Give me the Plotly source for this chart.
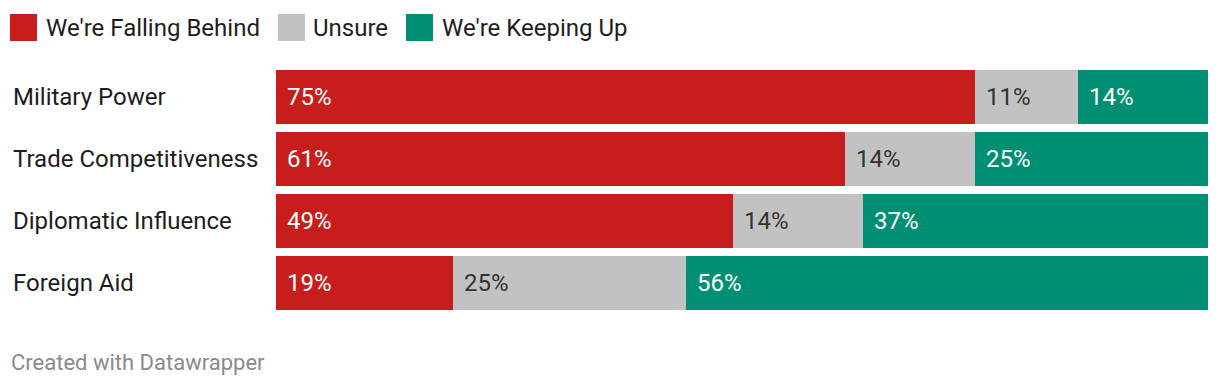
import plotly.graph_objects as go

categories = ["Military Power", "Trade Competitiveness", "Diplomatic Influence", "Foreign Aid"]
falling_behind = [75, 61, 49, 19]
unsure = [11, 14, 14, 25]
keeping_up = [14, 25, 37, 56]
series_names = ["We're Falling Behind", "Unsure", "We're Keeping Up"]
colors = ["#c71e1d", "#c2c2c2", "#008f72"]
text_colors = ["#ffffff", "#333333", "#ffffff"]

# page body has an 8px offset; positions below are reference pixels minus 8
OFF = 8
W, H = 1220, 386
ML, MR, MT, MB = 276 - OFF, 20, 66 - OFF, 80
PW = W - ML - MR
PH = H - MT - MB


def px_x(px):
    return (px - OFF - ML) / PW


def px_y(py):
    return 1 - (py - OFF - MT) / PH


FONT = "Roboto"
fig = go.Figure()
series = [falling_behind, unsure, keeping_up]
for name, vals, col in zip(series_names, series, colors):
    fig.add_trace(go.Bar(
        y=categories, x=vals, name=name, orientation="h",
        marker=dict(color=col, line=dict(width=0)),
        showlegend=False, hoverinfo="skip",
    ))

annotations = []
for i, cat in enumerate(categories):
    start = 0
    for s, vals in enumerate(series):
        annotations.append(dict(
            x=start, y=cat, xref="x", yref="y", text=f"{vals[i]}%",
            showarrow=False, xanchor="left", yanchor="middle", xshift=9,
            font=dict(family=FONT, size=24, color=text_colors[s]),
        ))
        start += vals[i]
    annotations.append(dict(
        x=px_x(11), y=cat, xref="paper", yref="y", text=cat,
        showarrow=False, xanchor="left", yanchor="middle",
        font=dict(family=FONT, size=24, color="#1d1d1d"),
    ))

legend_sq_x = [10, 278, 406]
legend_tx_x = [44, 311, 440]
shapes = []
for name, col, sx, tx in zip(series_names, colors, legend_sq_x, legend_tx_x):
    shapes.append(dict(
        type="rect", xref="paper", yref="paper",
        x0=px_x(sx), x1=px_x(sx + 27), y0=px_y(41), y1=px_y(14),
        fillcolor=col, line=dict(width=0), layer="above",
    ))
    annotations.append(dict(
        x=px_x(tx), y=px_y(28), xref="paper", yref="paper", text=name,
        showarrow=False, xanchor="left", yanchor="middle",
        font=dict(family=FONT, size=24, color="#1d1d1d"),
    ))

annotations.append(dict(
    x=px_x(9), y=px_y(362), xref="paper", yref="paper",
    text="Created with Datawrapper", showarrow=False,
    xanchor="left", yanchor="middle",
    font=dict(family=FONT, size=22, color="#8a8a8a"),
))

fig.update_layout(
    width=W, height=H, barmode="stack", bargap=8 / 62,
    margin=dict(l=ML, r=MR, t=MT, b=MB, pad=0),
    paper_bgcolor="white", plot_bgcolor="white",
    xaxis=dict(range=[0, 100], visible=False, fixedrange=True),
    yaxis=dict(autorange="reversed", visible=False, fixedrange=True),
    annotations=annotations, shapes=shapes,
)
fig.write_html("out.html")
